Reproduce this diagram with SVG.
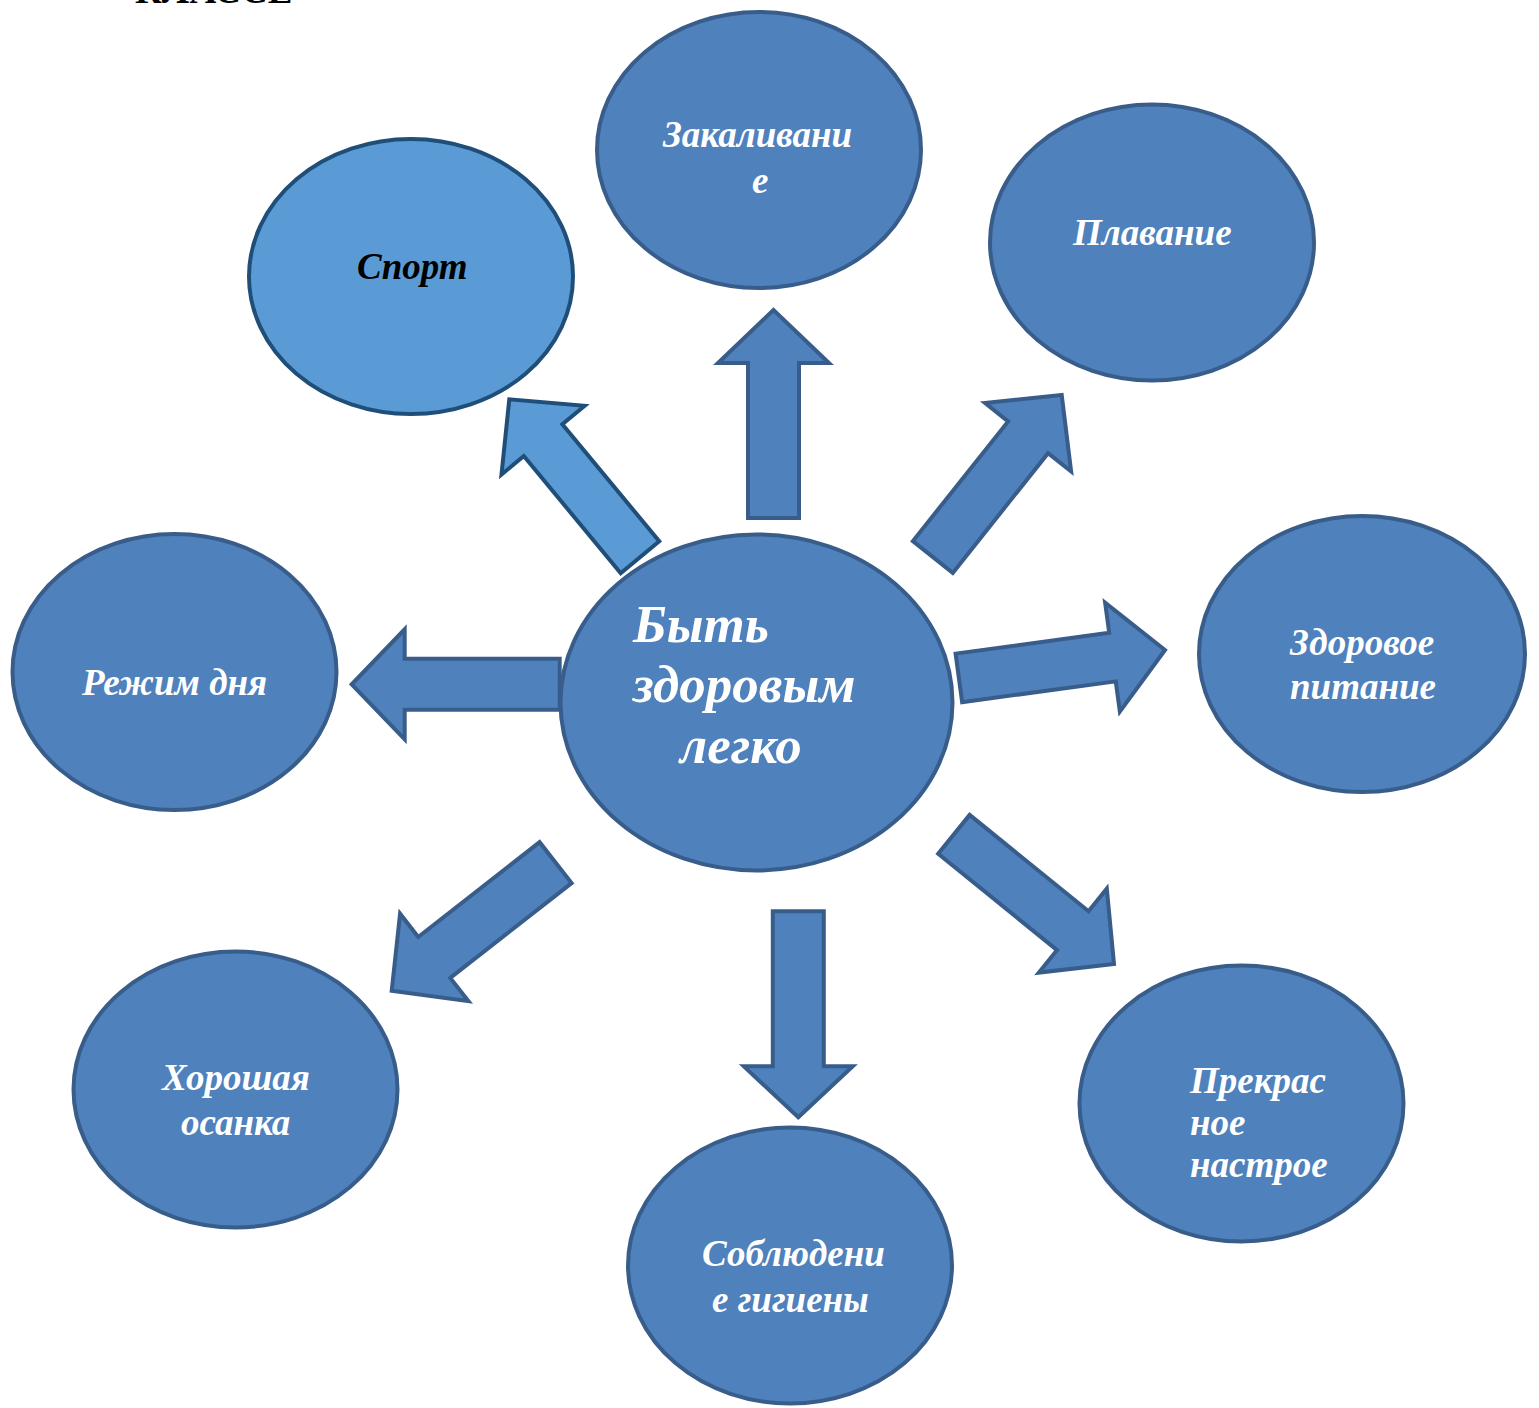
<svg xmlns="http://www.w3.org/2000/svg" width="1539" height="1408" viewBox="0 0 1539 1408">
<style>
.n{fill:#4f81bd;stroke:#385d8a;stroke-width:4}
.a{fill:#4f81bd;stroke:#385d8a;stroke-width:4;stroke-linejoin:miter}
.s{fill:#5b9bd5;stroke:#1f4e79;stroke-width:4}
.t{font-family:"Liberation Serif","Times New Roman",serif;font-weight:bold;font-style:italic;font-size:37px;fill:#ffffff}
.c{font-size:53px}
</style>
<rect width="1539" height="1408" fill="#ffffff"/>
<text x="135" y="3" font-family="Liberation Serif,serif" font-weight="bold" font-size="37" fill="#000">КЛАССЕ</text>
<g id="connectors">
<polygon class="s" transform="translate(509.3,399.3) rotate(-129.6)" points="0,0 -53,-54 -53,-25 -205,-25 -205,25 -53,25 -53,54"/>
<polygon class="a" transform="translate(773.5,310) rotate(-90)" points="0,0 -53,-55.5 -53,-25.5 -208,-25.5 -208,25.5 -53,25.5 -53,55.5"/>
<polygon class="a" transform="translate(1061.7,395) rotate(-51.5)" points="0,0 -54,-55 -54,-25.5 -207,-25.5 -207,25.5 -54,25.5 -54,55"/>
<polygon class="a" transform="translate(1165,650) rotate(-7.7)" points="0,0 -53,-55 -53,-24.5 -208,-24.5 -208,24.5 -53,24.5 -53,55"/>
<polygon class="a" transform="translate(1114,964) rotate(39)" points="0,0 -53,-54 -53,-25 -206,-25 -206,25 -53,25 -53,54"/>
<polygon class="a" transform="translate(798.3,1117.3) rotate(90)" points="0,0 -51,-54.5 -51,-25.5 -206,-25.5 -206,25.5 -51,25.5 -51,54.5"/>
<polygon class="a" transform="translate(391.7,990.7) rotate(142)" points="0,0 -54,-55.5 -54,-26 -208,-26 -208,26 -54,26 -54,55.5"/>
<polygon class="a" transform="translate(351.7,684.3) rotate(180)" points="0,0 -53,-55 -53,-25.5 -208,-25.5 -208,25.5 -53,25.5 -53,55"/>
</g>
<g id="center">
<ellipse class="n" cx="756.5" cy="702.5" rx="196" ry="168"/>
<text class="t c" x="633" y="642">Быть</text>
<text class="t c" x="633" y="702">здоровым</text>
<text class="t c" x="680" y="763">легко</text>
</g>
<g id="sport">
<ellipse class="s" cx="411" cy="276.5" rx="162" ry="137.5"/>
<text class="t" x="357" y="279" style="fill:#000000">Спорт</text>
</g>
<g id="zakalivanie">
<ellipse class="n" cx="759" cy="150" rx="162" ry="138"/>
<text class="t" x="663" y="147">Закаливани</text>
<text class="t" x="752" y="193">е</text>
</g>
<g id="plavanie">
<ellipse class="n" cx="1152" cy="242.5" rx="162" ry="138"/>
<text class="t" x="1073" y="245">Плавание</text>
</g>
<g id="pitanie">
<ellipse class="n" cx="1362" cy="654" rx="163" ry="138"/>
<text class="t" x="1290" y="655">Здоровое</text>
<text class="t" x="1290" y="699">питание</text>
</g>
<g id="nastroenie">
<ellipse class="n" cx="1241.5" cy="1103.5" rx="162" ry="138"/>
<text class="t" x="1190" y="1093">Прекрас</text>
<text class="t" x="1190" y="1135">ное</text>
<text class="t" x="1190" y="1177">настрое</text>
</g>
<g id="gigiena">
<ellipse class="n" cx="790" cy="1265.5" rx="162" ry="138"/>
<text class="t" x="702" y="1266">Соблюдени</text>
<text class="t" x="712" y="1312">е гигиены</text>
</g>
<g id="osanka">
<ellipse class="n" cx="235.5" cy="1089.5" rx="162" ry="138"/>
<text class="t" x="162" y="1090">Хорошая</text>
<text class="t" x="181" y="1135">осанка</text>
</g>
<g id="rezhim">
<ellipse class="n" cx="174.5" cy="672" rx="162" ry="138"/>
<text class="t" x="82" y="695">Режим дня</text>
</g>
</svg>
